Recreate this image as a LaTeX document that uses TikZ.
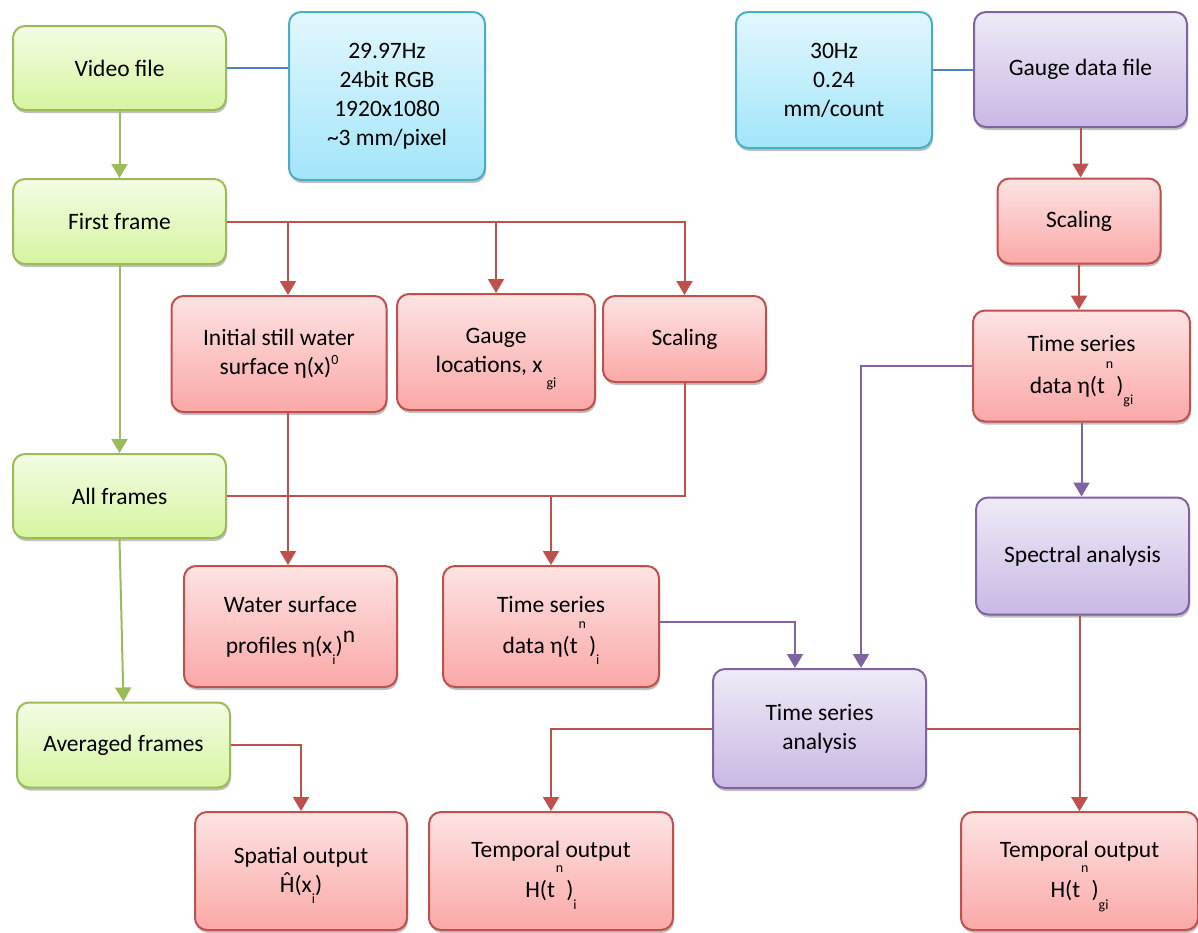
\documentclass[tikz,border=0pt]{standalone}
\usepackage{fontspec}
\setmainfont{Carlito}
\usetikzlibrary{arrows.meta,shadows}

\definecolor{grnD}{HTML}{9BBB59}
\definecolor{grnT}{HTML}{F3FCE4}
\definecolor{grnB}{HTML}{D6F5A0}
\definecolor{redD}{HTML}{C0504D}
\definecolor{redT}{HTML}{FDE3E3}
\definecolor{redB}{HTML}{FAA8A7}
\definecolor{purD}{HTML}{8064A2}
\definecolor{purT}{HTML}{EFEAF7}
\definecolor{purB}{HTML}{C9B8E4}
\definecolor{bluD}{HTML}{4BACC6}
\definecolor{bluT}{HTML}{E2F7FD}
\definecolor{bluB}{HTML}{A2E5FA}
\definecolor{bluL}{HTML}{4F81BD}

% raised / lowered indices as the figure prints them
\newcommand{\tup}[1]{\hspace{1pt}\smash{\raisebox{1.05em}{\fontsize{14}{14}\selectfont #1}}\hspace{3pt}}
\newcommand{\tdn}[1]{\smash{\raisebox{-.5em}{\fontsize{14}{14}\selectfont #1}}}
\newcommand{\Hhat}{\ooalign{H\cr\hidewidth\smash{\raisebox{.16em}{ˆ}}\hidewidth\cr}}

\begin{document}
\begin{tikzpicture}[x=1pt,y=-1pt,
    box/.style={rounded corners=12pt,line width=2pt,align=center,
      font=\fontsize{23.5}{29}\selectfont,inner sep=2pt,
      drop shadow={shadow xshift=1pt,shadow yshift=-3pt,opacity=.45,fill=black!55}},
    grn/.style={box,draw=grnD,top color=grnT,bottom color=grnB},
    red/.style={box,draw=redD,top color=redT,bottom color=redB},
    pur/.style={box,draw=purD,top color=purT,bottom color=purB},
    blu/.style={box,draw=bluD,top color=bluT,bottom color=bluB},
    garr/.style={draw=grnD,line width=2pt,-{Triangle[width=16pt,length=14pt]}},
    rarr/.style={draw=redD,line width=2pt,-{Triangle[width=16pt,length=14pt]}},
    parr/.style={draw=purD,line width=2pt,-{Triangle[width=16pt,length=14pt]}},
    rline/.style={draw=redD,line width=2pt},
    bline/.style={draw=bluL,line width=2pt}
  ]
  \useasboundingbox (0,0) rectangle (1198,932);

  % video side
  \node[grn,minimum width=213,minimum height=84] (vid) at (119.5,68) {Video file};
  \node[blu,minimum width=196,minimum height=168] (inf1) at (387,96)
    {29.97Hz\\24bit RGB\\1920x1080\\\textasciitilde3 mm/pixel};
  \node[grn,minimum width=213,minimum height=85] (ff) at (119.5,221.5) {First frame};
  \node[red,minimum width=215,minimum height=116] (init) at (279,354)
    {Initial still water\\surface η(x)\raisebox{.45em}{\fontsize{14}{14}\selectfont 0}};
  \node[red,minimum width=198,minimum height=116] (gloc) at (496,352)
    {Gauge\\locations, x\,\tdn{\raisebox{-.2em}{gi}}};
  \node[red,minimum width=163,minimum height=86] (scm) at (684.5,339) {Scaling};
  \node[grn,minimum width=213,minimum height=84] (allf) at (119.5,496) {All frames};
  \node[red,minimum width=213,minimum height=121] (wsp) at (290.5,626.5)
    {Water surface\\[12pt]profiles η(x\tdn{i})\smash{\raisebox{.45em}{n}}};
  \node[red,minimum width=216,minimum height=121] (tsi) at (551,626.5)
    {Time series\\[12pt]data η(t\tup{n})\tdn{i}};
  \node[grn,minimum width=213,minimum height=85] (avg) at (123.5,745) {Averaged frames};
  \node[red,minimum width=212,minimum height=118] (spo) at (301,871)
    {Spatial output\\\Hhat(x\tdn{i})};
  \node[red,minimum width=244,minimum height=118] (toi) at (551,871)
    {Temporal output\\[11pt]H(t\tup{n})\tdn{i}};

  % gauge side
  \node[blu,minimum width=196,minimum height=136] (inf2) at (834,80) {30Hz\\0.24\\mm/count};
  \node[pur,minimum width=213,minimum height=115] (gdf) at (1080.5,69.5) {Gauge data file};
  \node[red,minimum width=163,minimum height=85] (scr) at (1079,221) {Scaling};
  \node[red,minimum width=217,minimum height=111] (tsg) at (1081.5,366)
    {Time series\\[13pt]data η(t\tup{n})\tdn{gi}};
  \node[pur,minimum width=213,minimum height=117] (spec) at (1082.5,556) {Spectral analysis};
  \node[pur,minimum width=213,minimum height=119] (tsa) at (819.5,728.5) {Time series\\analysis};
  \node[red,minimum width=237,minimum height=118] (tog) at (1079.5,871)
    {Temporal output\\[11pt]H(t\tup{n})\tdn{gi}};

  % connector ends off the box centres
  \coordinate (initN) at ([xshift=9pt]init.north);
  \coordinate (initS) at ([xshift=9pt]init.south);
  \coordinate (tsaNL) at ([xshift=-24.5pt]tsa.north);
  \coordinate (tsaNR) at ([xshift=41.5pt]tsa.north);

  % connectors
  \draw[bline] (vid.east) -- (vid.east -| inf1.west);
  \draw[bline] (inf2.east |- gdf.west) -- (gdf.west);
  \draw[garr] (vid) -- (ff);
  \draw[garr] (ff) -- (allf);
  \draw[garr] (allf.south) -- (avg.north);

  \draw[rarr] (ff.east) -| (scm.north);
  \draw[rarr] (ff.east -| gloc.north) -- (gloc.north);
  \draw[rarr] (ff.east -| initN) -- (initN);
  \draw[rarr] (initS) -- (initS |- wsp.north);
  \draw[rline] (allf.east) -| (scm.south);
  \draw[rarr] (allf.east -| tsi.north) -- (tsi.north);
  \draw[rarr] (avg.east) -| (spo.north);

  \draw[parr] ([yshift=5pt]tsi.east) -| (tsaNL);
  \draw[parr] (tsg.west) -| (tsaNR);
  \draw[rarr] (tsa.west) -| (toi.north);
  \draw[rarr] (tsa.east) -| (tog.north);

  \draw[rarr] (gdf.south) -- (gdf.south |- scr.north);
  \draw[rarr] (scr.south) -- (scr.south |- tsg.north);
  \draw[parr] (tsg.south) -- (tsg.south |- spec.north);
  \draw[rarr] (spec.south -| tog.north) -- (tog.north);
\end{tikzpicture}
\end{document}
